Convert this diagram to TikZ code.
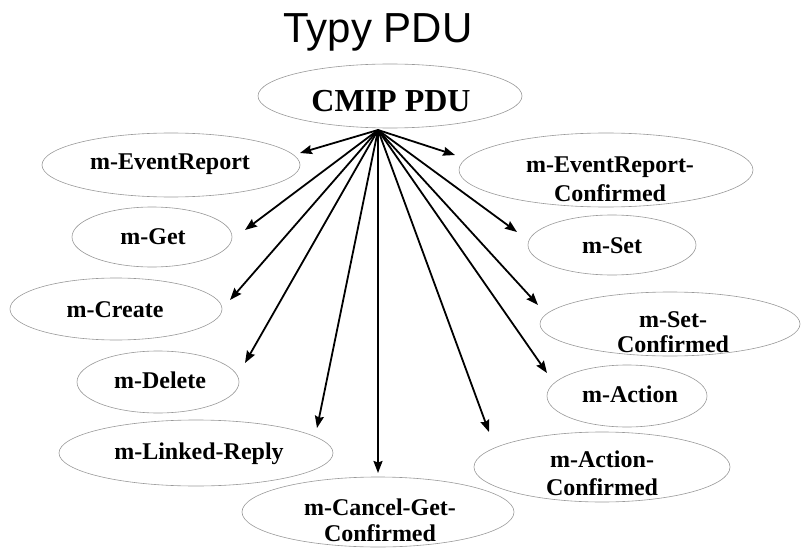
\documentclass[tikz,border=0pt]{standalone}
\usepackage{fontspec}
\setmainfont{Liberation Serif}
\newfontfamily\titlefont{Liberation Sans}
\usetikzlibrary{shapes.geometric,arrows.meta}

\tikzset{
  oval/.style={ellipse, draw=black!40, line width=0.6pt, inner sep=0pt},
  lbl/.style={anchor=base, inner sep=0pt, font=\fontsize{24}{27}\selectfont\bfseries},
  arr/.style={line width=1.8pt, -{Stealth[length=12pt,width=9pt,inset=1.5pt]}}
}

% ellipse node: name, x, y, width, height
\newcommand{\pduoval}[5]{%
  \node[oval, minimum width=#4pt, minimum height=#5pt] (#1) at (#2,#3) {};}

\begin{document}
\begin{tikzpicture}[x=1pt,y=-1pt]
\useasboundingbox (0,0) rectangle (805,548);

% title
\node[anchor=base, inner sep=0pt, font=\titlefont\fontsize{42}{45}\selectfont] (title) at (378,43) {Typy PDU};

% root
\pduoval{root}{390}{96}{264}{64}
\node[anchor=base, inner sep=0pt, font=\fontsize{32}{36}\selectfont\bfseries] (rootT) at (391,112) {CMIP PDU};

% left column
\pduoval{er}{171}{165}{258}{64}
\node[lbl] (erT) at (170,170) {m-EventReport};
\pduoval{get}{152}{237}{160}{60}
\node[lbl] (getT) at (153,244) {m-Get};
\pduoval{cre}{116}{309}{212}{62}
\node[lbl] (creT) at (115,317) {m-Create};
\pduoval{del}{158}{382}{162}{62}
\node[lbl] (delT) at (160,388) {m-Delete};
\pduoval{lnk}{196}{453}{274}{66}
\node[lbl] (lnkT) at (199,459) {m-Linked-Reply};

% bottom
\pduoval{cgc}{378}{512}{272}{70}
\node[lbl] (cgcA) at (380,515) {m-Cancel-Get-};
\node[lbl] (cgcB) at (380,541) {Confirmed};

% right column
\pduoval{erc}{606}{170}{294}{74}
\node[lbl] (ercA) at (610,173) {m-EventReport-};
\node[lbl] (ercB) at (610,201) {Confirmed};
\pduoval{set}{612}{245}{168}{60}
\node[lbl] (setT) at (612,253) {m-Set};
\pduoval{setc}{670}{324}{260}{64}
\node[lbl] (setcA) at (673,327) {m-Set-};
\node[lbl] (setcB) at (673,352) {Confirmed};
\pduoval{act}{627}{396}{160}{62}
\node[lbl] (actT) at (630,402) {m-Action};
\pduoval{actc}{602}{467}{256}{70}
\node[lbl] (actcA) at (602,467) {m-Action-};
\node[lbl] (actcB) at (602,495) {Confirmed};

% arrow hub and tips
\coordinate (hub) at (378,130);
\coordinate (pEr)   at (300,153);
\coordinate (pGet)  at (245,230);
\coordinate (pCre)  at (230,300);
\coordinate (pDel)  at (245,363);
\coordinate (pLnk)  at (317,428);
\coordinate (pCgc)  at (378,473);
\coordinate (pActc) at (489,432);
\coordinate (pAct)  at (547,373);
\coordinate (pSetc) at (538,305);
\coordinate (pSet)  at (517,232);
\coordinate (pErc)  at (455,155);

\foreach \t in {pEr,pGet,pCre,pDel,pLnk,pCgc,pActc,pAct,pSetc,pSet,pErc}
  \draw[arr] (hub) -- (\t);
\end{tikzpicture}
\end{document}
